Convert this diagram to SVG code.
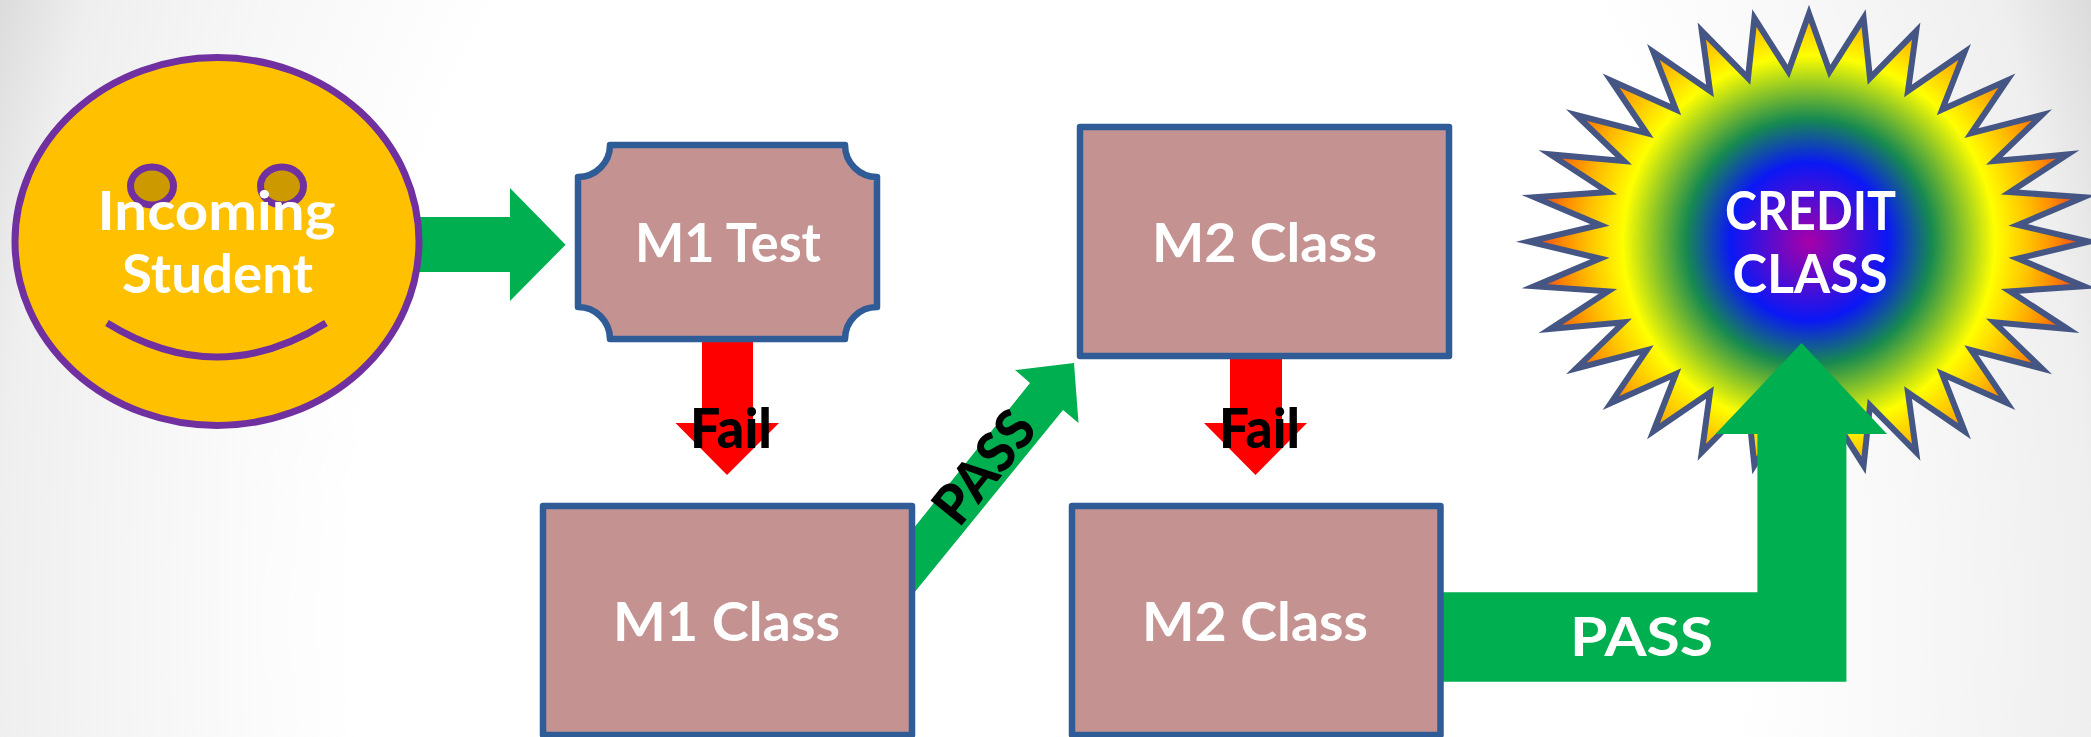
<svg xmlns="http://www.w3.org/2000/svg" width="2091" height="737" viewBox="0 0 2091 737">
<style>
.box{fill:#c49391;stroke:#2f5b96;stroke-width:6.5;stroke-linejoin:round}
.face{stroke:#7030a0;stroke-width:7}
.go{fill:#00b050}
.no{fill:#ff0000}
text{font-family:"Lato","Open Sans","Liberation Sans",sans-serif;font-weight:700;font-size:53px}
.w{fill:#ffffff}
.k{fill:#000000;font-weight:900;font-size:55px}
</style>
<defs>
<radialGradient id="bg" gradientUnits="userSpaceOnUse" cx="0" cy="0" r="1" gradientTransform="translate(1045 620) scale(1129 1620)">
<stop offset="0.611" stop-color="#ffffff"/>
<stop offset="0.763" stop-color="#f8f8f8"/>
<stop offset="0.926" stop-color="#efefef"/>
<stop offset="1" stop-color="#dcdcdc"/>
</radialGradient>
<radialGradient id="burst" gradientUnits="userSpaceOnUse" cx="0" cy="0" r="300">
<stop offset="0" stop-color="#a800a8"/>
<stop offset="0.263" stop-color="#0a18f5"/>
<stop offset="0.41" stop-color="#178a50"/>
<stop offset="0.62" stop-color="#ffff00"/>
<stop offset="0.73" stop-color="#ffc400"/>
<stop offset="0.82" stop-color="#ff8a00"/>
<stop offset="0.887" stop-color="#f0551c"/>
</radialGradient>
</defs>
<rect id="background" width="2091" height="737" fill="url(#bg)"/>
<g id="credit-class">
<polygon transform="translate(1809 241.7)" fill="url(#burst)" stroke="#455684" stroke-width="6" stroke-miterlimit="20" points="0,-228 20.6,-170.2 54.6,-223.6 61,-163.6 107.2,-210.6 99,-150.8 155.6,-189.6 133.2,-132.2 198,-161.2 162.3,-108.5 232.8,-126.7 185.2,-80.6 258.7,-87.3 201,-49.6 274.6,-44.5 209,-16.8 280,0 209,16.8 274.6,44.5 201,49.6 258.7,87.3 185.2,80.6 232.8,126.7 162.3,108.5 198,161.2 133.2,132.2 155.6,189.6 99,150.8 107.2,210.6 61,163.6 54.6,223.6 20.6,170.2 0,228 -20.6,170.2 -54.6,223.6 -61,163.6 -107.2,210.6 -99,150.8 -155.6,189.6 -133.2,132.2 -198,161.2 -162.3,108.5 -232.8,126.7 -185.2,80.6 -258.7,87.3 -201,49.6 -274.6,44.5 -209,16.8 -280,0 -209,-16.8 -274.6,-44.5 -201,-49.6 -258.7,-87.3 -185.2,-80.6 -232.8,-126.7 -162.3,-108.5 -198,-161.2 -133.2,-132.2 -155.6,-189.6 -99,-150.8 -107.2,-210.6 -61,-163.6 -54.6,-223.6 -20.6,-170.2"/>
<text class="w" x="1725" y="230" textLength="171" lengthAdjust="spacingAndGlyphs">CREDIT</text>
<text class="w" x="1732.5" y="293" textLength="155" lengthAdjust="spacingAndGlyphs">CLASS</text>
</g>
<g id="connectors">
<polygon class="go" points="400,217 510,217 510,188 565.6,244.7 510,301 510,272 400,272"/>
<polygon class="no" points="702,335 753,335 753,423 779,423 727,475 675.5,423 702,423"/>
<polygon class="no" points="1230,350 1282,350 1282,423 1307,423 1255.5,475 1204,423 1230,423"/>
<polygon class="go" points="905,539 1030,383 1015,370 1074,363 1078.5,423 1063,410 905,604"/>
<polygon class="go" points="1430,592.3 1757.4,592.3 1757.4,434 1715.6,434 1801.5,343 1887,434 1846.4,434 1846.4,681.7 1430,681.7"/>
</g>
<g id="incoming-student">
<ellipse class="face" cx="217" cy="241.5" rx="202" ry="184" fill="#ffc000"/>
<ellipse class="face" cx="152" cy="186" rx="21.5" ry="19" fill="#cc9a00"/>
<ellipse class="face" cx="282" cy="186" rx="21.5" ry="19" fill="#cc9a00"/>
<path class="face" fill="none" d="M107,323 Q217,391 326,323"/>
<text class="w" x="97.5" y="230" textLength="238" lengthAdjust="spacingAndGlyphs">Incoming</text>
<text class="w" x="122" y="293" textLength="191" lengthAdjust="spacingAndGlyphs">Student</text>
</g>
<g id="m1-test">
<path class="box" d="M610,145 H845 A32,32 0 0 0 877,177 V307 A32,32 0 0 0 845,339 H610 A32,32 0 0 0 578,307 V177 A32,32 0 0 0 610,145 Z"/>
<text class="w" x="635" y="262" textLength="186" lengthAdjust="spacingAndGlyphs">M1 Test</text>
</g>
<g id="m2-class-top">
<rect class="box" x="1080" y="127" width="369" height="229"/>
<text class="w" x="1152" y="262" textLength="225" lengthAdjust="spacingAndGlyphs">M2 Class</text>
</g>
<g id="m1-class">
<rect class="box" x="543" y="506" width="369" height="229"/>
<text class="w" x="613" y="640.5" textLength="227" lengthAdjust="spacingAndGlyphs">M1 Class</text>
</g>
<g id="m2-class-bottom">
<rect class="box" x="1072" y="506" width="368.5" height="229"/>
<text class="w" x="1142" y="640.5" textLength="226" lengthAdjust="spacingAndGlyphs">M2 Class</text>
</g>
<g id="connector-labels">
<text class="k" x="690" y="447.5" textLength="82" lengthAdjust="spacingAndGlyphs">Fail</text>
<text class="k" x="1219" y="447.5" textLength="81" lengthAdjust="spacingAndGlyphs">Fail</text>
<text class="k" text-anchor="middle" transform="translate(985 468) rotate(-51)" x="0" y="18" textLength="127" lengthAdjust="spacingAndGlyphs">PASS</text>
<text class="w" x="1570" y="655.5" textLength="143" lengthAdjust="spacingAndGlyphs">PASS</text>
</g>
</svg>
